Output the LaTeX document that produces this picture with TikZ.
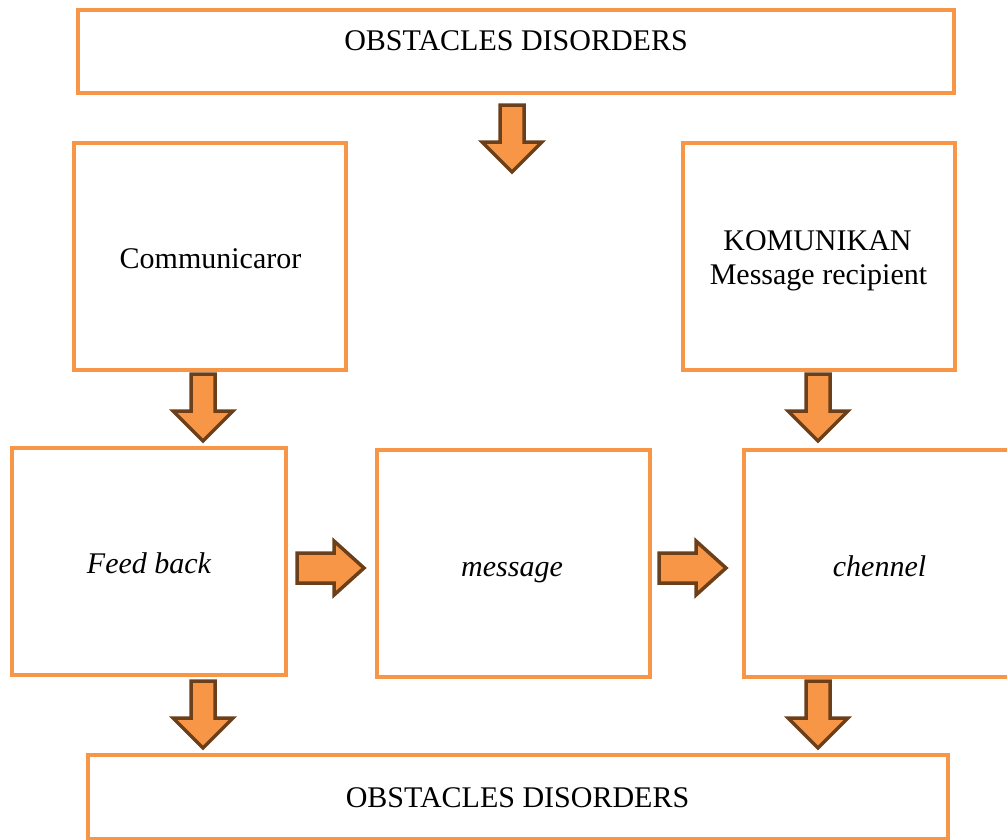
\documentclass[tikz,border=0pt]{standalone}
\usepackage{fontspec}
\setmainfont{Liberation Serif}
\definecolor{boxor}{HTML}{F79646}
\definecolor{arrfill}{HTML}{F79646}
\definecolor{arrline}{HTML}{6B3F1A}
\tikzset{
  x=1pt,y=-1pt,
  box/.style={draw=boxor,line width=4pt,fill=white,inner sep=0pt},
  txt/.style={anchor=base,inner sep=0pt,font=\fontsize{30}{34}\selectfont},
  blockarrow/.style={draw=arrline,fill=arrfill,line width=3.5pt,line join=miter},
  pics/downarrow/.style={code={
    \draw[blockarrow] (-12,0) -- (12,0) -- (12,37) -- (30,37) -- (0,67) -- (-30,37) -- (-12,37) -- cycle;}},
  pics/rightarrow/.style={code={
    \draw[blockarrow] (0,-15) -- (37,-15) -- (37,-27) -- (67,0) -- (37,27) -- (37,15) -- (0,15) -- cycle;}}
}
\begin{document}
\begin{tikzpicture}
\useasboundingbox (0,0) rectangle (1007,839);
\node[box,minimum width=876pt,minimum height=83pt] (top) at (516,51.5) {};
\node[box,minimum width=272pt,minimum height=227pt] (comm) at (210,256.5) {};
\node[box,minimum width=272pt,minimum height=227pt] (komu) at (819,256.5) {};
\node[box,minimum width=274pt,minimum height=227pt] (feed) at (149,561.5) {};
\node[box,minimum width=273pt,minimum height=227pt] (mess) at (513.5,563.5) {};
\node[box,minimum width=280pt,minimum height=227pt] (chen) at (884,563.5) {};
\node[box,minimum width=860pt,minimum height=84pt] (bot) at (518,797) {};
\node[txt] (topt) at (516,50) {OBSTACLES DISORDERS};
\node[txt] (commt) at (210.5,268) {Communicaror};
\node[txt] (komut1) at (817.5,250) {KOMUNIKAN};
\node[txt] (komut2) at (818.5,284) {Message recipient};
\node[txt] (feedt) at (149,573) {\itshape Feed back};
\node[txt] (messt) at (512,576) {\itshape message};
\node[txt] (chent) at (879.5,576) {\itshape chennel};
\node[txt] (bott) at (517.5,807) {OBSTACLES DISORDERS};
\coordinate (a1) at (512,105);
\coordinate (a2) at (203,374);
\coordinate (a3) at (818,374);
\coordinate (a4) at (203,681);
\coordinate (a5) at (818,681);
\coordinate (a6) at (297,568);
\coordinate (a7) at (659,568);
\pic at (a1) {downarrow};
\pic at (a2) {downarrow};
\pic at (a3) {downarrow};
\pic at (a4) {downarrow};
\pic at (a5) {downarrow};
\pic at (a6) {rightarrow};
\pic at (a7) {rightarrow};
\end{tikzpicture}
\end{document}
